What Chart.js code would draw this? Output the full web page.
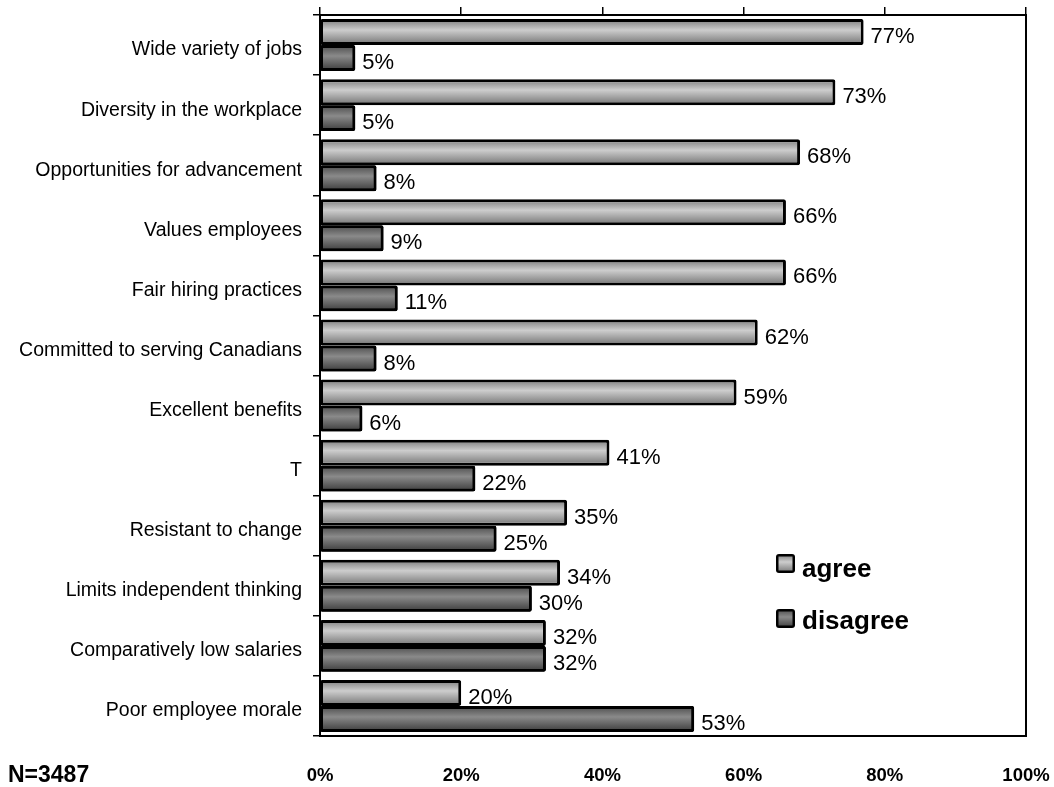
<!DOCTYPE html>
<html>
<head>
<meta charset="utf-8">
<script src="https://cdn.jsdelivr.net/npm/chart.js@4.4.1/dist/chart.umd.min.js"></script>
<style>
  html, body { margin: 0; padding: 0; background: #fff; }
  #wrap { width: 1054px; height: 787px; position: relative; }
</style>
</head>
<body>
<div id="wrap"><canvas id="chart" width="1054" height="787"></canvas></div>
<script>
const categories = [
  'Wide variety of jobs',
  'Diversity in the workplace',
  'Opportunities for advancement',
  'Values employees',
  'Fair hiring practices',
  'Committed to serving Canadians',
  'Excellent benefits',
  'T',
  'Resistant to change',
  'Limits independent thinking',
  'Comparatively low salaries',
  'Poor employee morale'
];
const agree = [77, 73, 68, 66, 66, 62, 59, 41, 35, 34, 32, 20];
const disagree = [5, 5, 8, 9, 11, 8, 6, 22, 25, 30, 32, 53];
const xTicks = [0, 20, 40, 60, 80, 100];
const sampleNote = 'N=3487';

const SANS = '"Liberation Sans", Arial, sans-serif';
const CAT_PCT = 0.865;

const agreeStops = [[0, '#7a7a7a'], [0.42, '#cdcdcd'], [1, '#727272']];
const disagreeStops = [[0, '#4a4a4a'], [0.42, '#8a8a8a'], [1, '#3a3a3a']];

// vertical shading for each bar, computed from the category scale
function barFill(stops) {
  return (ctx) => {
    const chart = ctx.chart;
    const ys = chart.scales.y;
    if (ctx.type !== 'data' || !ys || !chart.chartArea) return stops[1][1];
    const band = (ys.bottom - ys.top) / categories.length * CAT_PCT;
    const mid = ys.getPixelForValue(ctx.dataIndex);
    const top = ctx.datasetIndex === 0 ? mid - band / 2 : mid;
    const g = chart.ctx.createLinearGradient(0, top, 0, top + band / 2);
    stops.forEach(s => g.addColorStop(s[0], s[1]));
    return g;
  };
}

// fixed box sizes so the plot frame lands where it should
function fixBox(w, h) {
  return (s) => {
    if (w !== null) s.width = w;
    if (h !== null) s.height = h;
    s.paddingLeft = s.paddingRight = s.paddingTop = s.paddingBottom = 0;
  };
}

function swatch(ctx, x, y, size, stops) {
  const g = ctx.createLinearGradient(0, y, 0, y + size);
  stops.forEach(s => g.addColorStop(s[0], s[1]));
  ctx.fillStyle = '#000';
  ctx.beginPath();
  ctx.roundRect(x, y, size, size, 3);
  ctx.fill();
  ctx.fillStyle = g;
  ctx.fillRect(x + 2.5, y + 2.5, size - 5, size - 5);
}

const valueLabels = {
  id: 'valueLabels',
  afterDatasetsDraw(chart) {
    const ctx = chart.ctx;
    const drawLabels = (di) => {
      const meta = chart.getDatasetMeta(di);
      const values = chart.data.datasets[di].data;
      ctx.save();
      ctx.font = '22px ' + SANS;
      ctx.fillStyle = '#000';
      ctx.textAlign = 'left';
      ctx.textBaseline = 'middle';
      meta.data.forEach((bar, i) => {
        ctx.fillText(values[i] + '%', bar.x + 7, bar.y + 5);
      });
      ctx.restore();
    };
    drawLabels(0);
    // disagree bars sit on top of the agree labels
    chart.getDatasetMeta(1).controller.draw();
    drawLabels(1);

    // legend inside the plot
    ctx.save();
    ctx.textBaseline = 'middle';
    ctx.textAlign = 'left';
    swatch(ctx, 776, 554, 19, agreeStops);
    swatch(ctx, 776, 609, 19, disagreeStops);
    ctx.font = 'bold 26px ' + SANS;
    ctx.fillStyle = '#000';
    ctx.fillText(chart.data.datasets[0].label, 802, 570);
    ctx.fillText(chart.data.datasets[1].label, 802, 622);
    // sample size
    ctx.font = 'bold 23px ' + SANS;
    ctx.fillText(sampleNote, 8, 776);
    ctx.restore();
  }
};

new Chart(document.getElementById('chart'), {
  type: 'bar',
  data: {
    labels: categories,
    datasets: [
      {
        label: 'agree',
        data: agree,
        backgroundColor: barFill(agreeStops),
        borderColor: '#000',
        borderWidth: 3,
        borderSkipped: false,
        borderRadius: 2,
        categoryPercentage: CAT_PCT,
        barPercentage: 1
      },
      {
        label: 'disagree',
        data: disagree,
        backgroundColor: barFill(disagreeStops),
        borderColor: '#000',
        borderWidth: 3,
        borderSkipped: false,
        borderRadius: 2,
        categoryPercentage: CAT_PCT,
        barPercentage: 1
      }
    ]
  },
  options: {
    indexAxis: 'y',
    responsive: false,
    animation: false,
    events: [],
    layout: { padding: 0 },
    plugins: {
      legend: { display: false },
      tooltip: { enabled: false }
    },
    scales: {
      x: {
        position: 'bottom',
        min: 0,
        max: 100,
        afterBuildTicks: (s) => { s.ticks = xTicks.map(v => ({ value: v })); },
        afterFit: fixBox(null, 51),
        grid: { display: false },
        border: { display: true, color: '#000', width: 2 },
        ticks: {
          color: '#000',
          padding: 21,
          maxRotation: 0,
          font: { family: SANS, size: 18.5, weight: 'bold' },
          callback: (v) => v + '%'
        }
      },
      xTop: {
        position: 'top',
        type: 'linear',
        min: 0,
        max: 100,
        afterBuildTicks: (s) => { s.ticks = xTicks.map(v => ({ value: v })); },
        afterFit: fixBox(null, 15),
        grid: { drawOnChartArea: false, color: '#000', lineWidth: 1.5, tickLength: 8 },
        border: { display: true, color: '#000', width: 2 },
        ticks: { display: false }
      },
      y: {
        position: 'left',
        afterFit: fixBox(320, null),
        grid: { offset: true, drawOnChartArea: false, color: '#000', lineWidth: 1.5, tickLength: 7 },
        border: { display: true, color: '#000', width: 2 },
        ticks: {
          color: '#000',
          padding: 11,
          labelOffset: 5,
          font: { family: SANS, size: 19.5 }
        }
      },
      yRight: {
        position: 'right',
        type: 'linear',
        min: 0,
        max: 1,
        afterFit: fixBox(28, null),
        grid: { display: false },
        border: { display: true, color: '#000', width: 2 },
        ticks: { display: false }
      }
    }
  },
  plugins: [valueLabels]
});
</script>
</body>
</html>
